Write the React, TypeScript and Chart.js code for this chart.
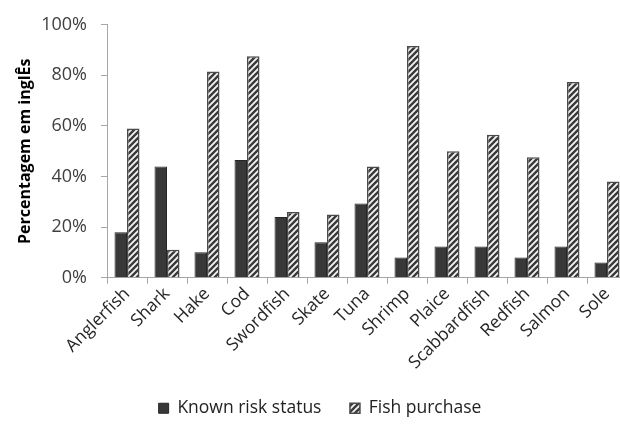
import React, { useEffect, useRef } from 'react';
import { Chart, registerables } from 'chart.js';

Chart.register(...registerables);

const categories = ['Anglerfish', 'Shark', 'Hake', 'Cod', 'Swordfish', 'Skate', 'Tuna', 'Shrimp', 'Plaice', 'Scabbardfish', 'Redfish', 'Salmon', 'Sole'];
const knownRiskStatus = [18, 44, 10, 46.5, 24, 14, 29.3, 8, 12.3, 12.3, 8, 12.3, 6];
const fishPurchase = [59, 11, 81.5, 87.6, 26, 25, 44, 91.6, 50, 56.5, 47.6, 77.4, 38];
const yTickValues = [0, 20, 40, 60, 80, 100];

function makeHatch(): CanvasPattern | string {
  const s = 6;
  const c = document.createElement('canvas');
  c.width = s;
  c.height = s;
  const p = c.getContext('2d');
  if (!p) return '#888';
  p.fillStyle = '#f4f4f4';
  p.fillRect(0, 0, s, s);
  p.strokeStyle = '#3a3a3a';
  p.lineWidth = 2.4;
  p.beginPath();
  p.moveTo(0, s);
  p.lineTo(s, 0);
  p.moveTo(-1, 1);
  p.lineTo(1, -1);
  p.moveTo(s - 1, s + 1);
  p.lineTo(s + 1, s - 1);
  p.stroke();
  return p.createPattern(c, 'repeat') || '#888';
}

export default function App() {
  const ref = useRef<HTMLCanvasElement | null>(null);
  useEffect(() => {
    if (!ref.current) return;
    const hatch = makeHatch();
    const font = "'Open Sans', 'Noto Sans', sans-serif";
    const chart = new Chart(ref.current, {
      type: 'bar',
      data: {
        labels: categories,
        datasets: [
          {
            label: 'Known risk status',
            data: knownRiskStatus,
            backgroundColor: '#383838',
            borderColor: '#262626',
            borderWidth: 1,
            categoryPercentage: 0.625,
            barPercentage: 1.0,
          },
          {
            label: 'Fish purchase',
            data: fishPurchase,
            backgroundColor: hatch as any,
            borderColor: '#4a4a4a',
            borderWidth: 1.5,
            categoryPercentage: 0.625,
            barPercentage: 1.0,
          },
        ],
      },
      options: {
        responsive: false,
        animation: false,
        layout: { padding: { left: 13, top: 24, right: 5, bottom: 0 } },
        plugins: {
          tooltip: { enabled: false },
          legend: {
            position: 'bottom',
            labels: {
              boxWidth: 10,
              boxHeight: 10,
              padding: 11,
              color: '#222',
              font: { family: font, size: 17.5 },
              generateLabels: (ch: any) => {
                const items = (Chart.defaults.plugins.legend.labels as any).generateLabels(ch);
                return items.map((it: any, i: number) => (i < items.length - 1 ? { ...it, text: it.text + '\u2002\u2002' } : it));
              },
            },
          },
        },
        scales: {
          x: {
            grid: { display: true, drawOnChartArea: false, offset: true, tickLength: 6, color: '#a6a6a6' },
            border: { color: '#a6a6a6' },
            ticks: { color: '#262626', font: { family: font, size: 17.5 }, maxRotation: 45, minRotation: 45, padding: 0 },
            afterFit: (axis: any) => {
              axis.height += 15;
              axis.paddingLeft = 0;
              axis.paddingRight = 0;
            },
          },
          y: {
            min: 0,
            max: 100,
            afterBuildTicks: (axis: any) => {
              axis.ticks = yTickValues.map((v) => ({ value: v }));
            },
            afterFit: (axis: any) => {
              axis.width = 94;
            },
            grid: { display: true, drawOnChartArea: false, tickLength: 6, color: '#a6a6a6' },
            border: { color: '#a6a6a6' },
            ticks: { color: '#404040', font: { family: font, size: 18 }, padding: 14, callback: (v: any) => v + '%' },
            title: {
              display: true,
              text: 'Percentagem em inglÊs',
              color: '#000',
              font: { family: font, size: 16, weight: 'bold' },
              padding: { top: 3, bottom: 4 },
            },
          },
        },
      },
    });
    return () => chart.destroy();
  }, []);
  return (
    <div style={{ position: 'fixed', left: 0, top: 0, width: 620, height: 427, overflow: 'hidden', background: '#fff' }}>
      <canvas ref={ref} width={632} height={427} style={{ display: 'block' }} />
    </div>
  );
}
